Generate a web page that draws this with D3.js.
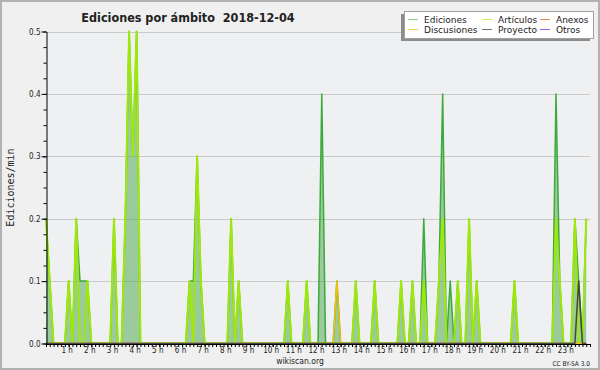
<!DOCTYPE html>
<html>
<head>
<meta charset="utf-8">
<script src="https://d3js.org/d3.v7.min.js"></script>
<style>
  body { margin: 0; background: #f0f0f0; }
  svg text { font-family: "DejaVu Sans Condensed", "Liberation Sans", sans-serif; fill: #222; white-space: pre; }
</style>
</head>
<body>
<div id="chart"></div>
<script>
// chart text
var title = "Ediciones por ámbito  2018-12-04";
var yLabel = "Ediciones/min";
var hourLabels = ["1 h", "2 h", "3 h", "4 h", "5 h", "6 h", "7 h", "8 h", "9 h", "10 h", "11 h", "12 h",
                  "13 h", "14 h", "15 h", "16 h", "17 h", "18 h", "19 h", "20 h", "21 h", "22 h", "23 h"];
var yTickLabels = ["0.0", "0.1", "0.2", "0.3", "0.4", "0.5"];

// one value every 10 minutes (00:00 .. 23:50), 12 values per row = 2 hours
var ediciones = [
  0.2, 0.1, 0, 0, 0, 0, 0.1, 0, 0.2, 0.1, 0.1, 0.1,
  0, 0, 0, 0, 0, 0, 0.2, 0, 0, 0.2, 0.5, 0.3,
  0.5, 0, 0, 0, 0, 0, 0, 0, 0, 0, 0, 0,
  0, 0, 0.1, 0.1, 0.3, 0.1, 0, 0, 0, 0, 0, 0,
  0, 0.2, 0, 0.1, 0, 0, 0, 0, 0, 0, 0, 0,
  0, 0, 0, 0, 0.1, 0, 0, 0, 0, 0.1, 0, 0,
  0, 0.4, 0, 0, 0, 0.1, 0, 0, 0, 0, 0.1, 0,
  0, 0, 0, 0.1, 0, 0, 0, 0, 0, 0, 0.1, 0,
  0, 0.1, 0, 0, 0.2, 0, 0, 0, 0.1, 0.4, 0, 0.1,
  0, 0.1, 0, 0, 0.2, 0, 0.1, 0, 0, 0, 0, 0,
  0, 0, 0, 0, 0.1, 0, 0, 0, 0, 0, 0, 0,
  0, 0, 0, 0.4, 0.1, 0, 0, 0, 0.2, 0.1, 0, 0.2
];
var articulos = [
  0.2, 0.1, 0, 0, 0, 0, 0.1, 0, 0.2, 0, 0, 0.1,
  0, 0, 0, 0, 0, 0, 0.2, 0, 0, 0.2, 0.5, 0.3,
  0.5, 0, 0, 0, 0, 0, 0, 0, 0, 0, 0, 0,
  0, 0, 0.1, 0, 0.3, 0.1, 0, 0, 0, 0, 0, 0,
  0, 0.2, 0, 0.1, 0, 0, 0, 0, 0, 0, 0, 0,
  0, 0, 0, 0, 0.1, 0, 0, 0, 0, 0.1, 0, 0,
  0, 0, 0, 0, 0, 0, 0, 0, 0, 0, 0.1, 0,
  0, 0, 0, 0.1, 0, 0, 0, 0, 0, 0, 0.1, 0,
  0, 0.1, 0, 0, 0.1, 0, 0, 0, 0.1, 0.2, 0, 0,
  0, 0.1, 0, 0, 0.2, 0, 0.1, 0, 0, 0, 0, 0,
  0, 0, 0, 0, 0.1, 0, 0, 0, 0, 0, 0, 0,
  0, 0, 0, 0.2, 0.1, 0, 0, 0, 0.2, 0, 0, 0.2
];
var anexos = [
  0, 0, 0, 0, 0, 0, 0, 0, 0, 0, 0, 0,
  0, 0, 0, 0, 0, 0, 0, 0, 0, 0, 0, 0,
  0, 0, 0, 0, 0, 0, 0, 0, 0, 0, 0, 0,
  0, 0, 0, 0, 0, 0, 0, 0, 0, 0, 0, 0,
  0, 0, 0, 0, 0, 0, 0, 0, 0, 0, 0, 0,
  0, 0, 0, 0, 0, 0, 0, 0, 0, 0, 0, 0,
  0, 0, 0, 0, 0, 0, 0, 0, 0, 0, 0, 0,
  0, 0, 0, 0, 0, 0, 0, 0, 0, 0, 0, 0,
  0, 0, 0, 0, 0, 0, 0, 0, 0, 0, 0, 0,
  0, 0, 0, 0, 0, 0, 0, 0, 0, 0, 0, 0,
  0, 0, 0, 0, 0, 0, 0, 0, 0, 0, 0, 0,
  0, 0, 0, 0, 0, 0, 0, 0, 0, 0, 0, 0
];
var discusiones = [
  0, 0, 0, 0, 0, 0, 0, 0, 0, 0, 0, 0,
  0, 0, 0, 0, 0, 0, 0, 0, 0, 0, 0, 0,
  0, 0, 0, 0, 0, 0, 0, 0, 0, 0, 0, 0,
  0, 0, 0, 0, 0, 0, 0, 0, 0, 0, 0, 0,
  0, 0, 0, 0, 0, 0, 0, 0, 0, 0, 0, 0,
  0, 0, 0, 0, 0, 0, 0, 0, 0, 0, 0, 0,
  0, 0, 0, 0, 0, 0.1, 0, 0, 0, 0, 0, 0,
  0, 0, 0, 0, 0, 0, 0, 0, 0, 0, 0, 0,
  0, 0, 0, 0, 0, 0, 0, 0, 0, 0, 0, 0,
  0, 0, 0, 0, 0, 0, 0, 0, 0, 0, 0, 0,
  0, 0, 0, 0, 0, 0, 0, 0, 0, 0, 0, 0,
  0, 0, 0, 0, 0, 0, 0, 0, 0, 0, 0, 0
];
var proyecto = [
  0, 0, 0, 0, 0, 0, 0, 0, 0, 0, 0, 0,
  0, 0, 0, 0, 0, 0, 0, 0, 0, 0, 0, 0,
  0, 0, 0, 0, 0, 0, 0, 0, 0, 0, 0, 0,
  0, 0, 0, 0, 0, 0, 0, 0, 0, 0, 0, 0,
  0, 0, 0, 0, 0, 0, 0, 0, 0, 0, 0, 0,
  0, 0, 0, 0, 0, 0, 0, 0, 0, 0, 0, 0,
  0, 0, 0, 0, 0, 0, 0, 0, 0, 0, 0, 0,
  0, 0, 0, 0, 0, 0, 0, 0, 0, 0, 0, 0,
  0, 0, 0, 0, 0, 0, 0, 0, 0, 0, 0, 0,
  0, 0, 0, 0, 0, 0, 0, 0, 0, 0, 0, 0,
  0, 0, 0, 0, 0, 0, 0, 0, 0, 0, 0, 0,
  0, 0, 0, 0, 0, 0, 0, 0, 0, 0.1, 0, 0
];
var otros = [
  0, 0, 0, 0, 0, 0, 0, 0, 0, 0, 0, 0,
  0, 0, 0, 0, 0, 0, 0, 0, 0, 0, 0, 0,
  0, 0, 0, 0, 0, 0, 0, 0, 0, 0, 0, 0,
  0, 0, 0, 0, 0, 0, 0, 0, 0, 0, 0, 0,
  0, 0, 0, 0, 0, 0, 0, 0, 0, 0, 0, 0,
  0, 0, 0, 0, 0, 0, 0, 0, 0, 0, 0, 0,
  0, 0, 0, 0, 0, 0, 0, 0, 0, 0, 0, 0,
  0, 0, 0, 0, 0, 0, 0, 0, 0, 0, 0, 0,
  0, 0, 0, 0, 0, 0, 0, 0, 0, 0, 0, 0,
  0, 0, 0, 0, 0, 0, 0, 0, 0, 0, 0, 0,
  0, 0, 0, 0, 0, 0, 0, 0, 0, 0, 0, 0,
  0, 0, 0, 0, 0, 0, 0, 0, 0, 0, 0, 0
];

var seriesNames = ["Ediciones", "Artículos", "Anexos", "Discusiones", "Proyecto", "Otros"];
var seriesColors = ["#3caa3c", "#9ee80a", "#f07840", "#f0c010", "#454545", "#9a50ea"];
var legendColors = ["#8ccf8c", "#c8f064", "#f08a5a", "#f4d450", "#707070", "#a060ee"];
var seriesData = [ediciones, articulos, anexos, discusiones, proyecto, otros];

var width = 600, height = 370;
var plot = { left: 46, right: 590, top: 31.5, bottom: 343.5 };

var svg = d3.select("#chart")
  .append("svg")
  .attr("width", width)
  .attr("height", height);

// background + frame
svg.append("rect")
  .attr("x", 1).attr("y", 1)
  .attr("width", width - 2).attr("height", height - 2)
  .attr("fill", "#f0f0f0")
  .attr("stroke", "#b2b2b2")
  .attr("stroke-width", 2);

svg.append("rect")
  .attr("x", plot.left).attr("y", plot.top)
  .attr("width", plot.right - plot.left).attr("height", plot.bottom - plot.top)
  .attr("fill", "#eef0f2");

// minutes of the day -> x
var x = d3.scaleLinear().domain([0, 1440]).range([plot.left, plot.right]);
var y = d3.scaleLinear().domain([0, 0.5]).range([plot.bottom, plot.top]);

function minuteOf(i) { return i * 10; }

// grid
svg.append("g")
  .selectAll("line")
  .data(yTickLabels.slice(1))
  .join("line")
  .attr("x1", plot.left).attr("x2", plot.right)
  .attr("y1", function (d) { return Math.round(y(+d)) + 0.5; })
  .attr("y2", function (d) { return Math.round(y(+d)) + 0.5; })
  .attr("stroke", "#cacaca");

// Ediciones area
svg.append("path")
  .datum(ediciones)
  .attr("fill", "#48a448")
  .attr("fill-opacity", 0.5)
  .attr("d", d3.area()
    .x(function (d, i) { return x(minuteOf(i)); })
    .y0(y(0))
    .y1(function (d) { return y(d); })
  );

var line = d3.line()
  .x(function (d, i) { return x(minuteOf(i)); })
  .y(function (d) { return y(d); });

// draw order: other namespaces first, then Ediciones, then Artículos on top
var order = [2, 5, 0, 1, 3, 4];
order.forEach(function (k) {
  svg.append("path")
    .datum(seriesData[k])
    .attr("fill", "none")
    .attr("stroke", seriesColors[k])
    .attr("stroke-width", k == 1 ? 2 : 1.5)
    .attr("stroke-linejoin", "round")
    .attr("d", line);
});

// x axis: small ticks every 10 min, labels on the hours
var xMinor = svg.append("g")
  .attr("transform", "translate(0," + (plot.bottom + 0.5) + ")")
  .call(d3.axisBottom(x)
    .tickValues(d3.range(0, 1441, 10))
    .tickSize(3)
    .tickSizeOuter(0)
    .tickFormat(""));

var xMajor = svg.append("g")
  .attr("transform", "translate(0," + (plot.bottom + 0.5) + ")")
  .call(d3.axisBottom(x)
    .tickValues(hourLabels.map(function (d, i) { return (i + 1) * 60; }))
    .tickSize(3)
    .tickPadding(0)
    .tickFormat(function (d, i) { return hourLabels[i]; }));
xMajor.select(".domain").remove();
xMajor.selectAll("text").attr("dx", -2).style("font-size", "8px");

// y axis
var yMinor = svg.append("g")
  .attr("transform", "translate(" + (plot.left + 0.5) + ",0)")
  .call(d3.axisLeft(y)
    .tickValues(d3.range(0, 0.5001, 0.025))
    .tickSize(3)
    .tickSizeOuter(0)
    .tickFormat(""));

var yMajor = svg.append("g")
  .attr("transform", "translate(" + (plot.left + 0.5) + ",0)")
  .call(d3.axisLeft(y)
    .tickValues(yTickLabels.map(function (d) { return +d; }))
    .tickSize(5)
    .tickPadding(1)
    .tickFormat(function (d, i) { return yTickLabels[i]; }));
yMajor.select(".domain").remove();
yMajor.selectAll("text").style("font-size", "8px");

svg.selectAll(".domain, .tick line").attr("stroke", "#000");

// titles
svg.append("text")
  .attr("x", 188).attr("y", 22)
  .attr("text-anchor", "middle")
  .style("font-size", "12.5px")
  .style("font-weight", "bold")
  .text(title);

svg.append("text")
  .attr("transform", "translate(14," + ((plot.top + plot.bottom) / 2) + ") rotate(-90)")
  .attr("text-anchor", "middle")
  .style("font-family", "'DejaVu Sans Mono', monospace")
  .style("font-size", "10px")
  .text(yLabel);

svg.append("text")
  .attr("x", 300).attr("y", 364)
  .attr("text-anchor", "middle")
  .style("font-size", "8.5px")
  .text("wikiscan.org");

svg.append("text")
  .attr("x", 590).attr("y", 366)
  .attr("text-anchor", "end")
  .style("font-size", "6.5px")
  .text("CC BY-SA 3.0");

// legend
var legend = svg.append("g").attr("transform", "translate(404,11)");
legend.append("rect")
  .attr("x", -3).attr("y", 3)
  .attr("width", 189).attr("height", 27)
  .attr("fill", "#8c8c8c");
legend.append("rect")
  .attr("x", 0.5).attr("y", 0.5)
  .attr("width", 189).attr("height", 27)
  .attr("fill", "#fff")
  .attr("stroke", "#a0a0a0");

var colX = [4, 78, 136];
seriesNames.forEach(function (name, k) {
  var col = k % 3, row = Math.floor(k / 3);
  var g = legend.append("g")
    .attr("transform", "translate(" + colX[col] + "," + (8.5 + row * 10) + ")");
  g.append("line")
    .attr("x1", 0).attr("x2", 10)
    .attr("stroke", legendColors[k]);
  g.append("text")
    .attr("x", 16).attr("y", 3.5)
    .style("font-family", "'DejaVu Sans', sans-serif")
    .style("font-size", "9px")
    .text(name);
});
</script>
</body>
</html>
